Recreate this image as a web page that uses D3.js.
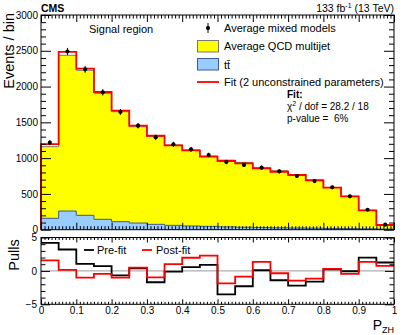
<!DOCTYPE html>
<html>
<head>
<meta charset="utf-8">
<script src="https://cdn.jsdelivr.net/npm/d3@7"></script>
<style>
	body { margin: 0; background: #fff; }
	svg { display: block; font-family: "Liberation Sans", Arial, sans-serif; }
	.tick text { font-size: 10px; fill: #000; }
	.tick line { stroke: #000; }
</style>
</head>
<body>
<svg id="chart" width="407" height="335"></svg>
<script>
// P_ZH distribution in the signal region, with pulls below.
//
var binEdges = d3.range(0, 21).map(function(i) { return i * 0.05; });

// Average mixed models (data points).
var mixedModels = [1216, 2490, 2241, 1920, 1645, 1453, 1291, 1193, 1123, 1044,
	946, 905, 866, 816, 750, 680, 592, 467, 279, 70];
// Total stack (QCD multijet + ttbar).
var stackTotal = [1160, 2437, 2227, 1906, 1649, 1439, 1305, 1183, 1114, 1030,
	972, 940, 870, 824, 772, 698, 590, 467, 271, 66];
var ttbar = [159, 261, 201, 145, 112, 93, 75, 61, 52, 47,
	40, 35, 31, 27, 24, 21, 18, 15, 12, 9];
var fit = [1197, 2485, 2250, 1924, 1663, 1453, 1313, 1179, 1109, 1020,
	960, 928, 858, 810, 764, 690, 587, 467, 271, 66];

var preFitPulls = [4.2, 3.2, 1.06, 0.7, -0.66, 0.4, -1.7, -0.1, 0.56, 0.9,
	-3.5, -2.3, 0.1, -1.4, -2.2, -1.6, 0.25, -0.05, 2.0, 1.26];
var postFitPulls = [1.57, 0.15, -1.0, -0.45, -1.0, 0.5, -0.96, 1.0, 1.97, 2.3,
	-1.87, -0.86, 1.36, -0.35, -1.46, -1.16, 0.3, -0.45, 1.36, 0.76];

var yTicks = [0, 500, 1000, 1500, 2000, 2500, 3000];
var pullTicks = [-5, 0, 5];
var xTicks = [0, 0.1, 0.2, 0.3, 0.4, 0.5, 0.6, 0.7, 0.8, 0.9, 1];

var svg = d3.select('#chart');

var x = d3.scaleLinear().domain([0, 1]).range([41, 394]);
var y = d3.scaleLinear().domain([0, 3000]).range([229.7, 15]);
var yPull = d3.scaleLinear().domain([-5, 5]).range([304.3, 237.5]);

// Turn per-bin values into the corner points of a step histogram.
function steps(values) {
	var pts = [];
	values.forEach(function(v, i) {
		pts.push([binEdges[i], v]);
		pts.push([binEdges[i + 1], v]);
	});
	return pts;
}

function stepArea(scaleY) {
	return d3.area()
		.x(function(d) { return x(d[0]); })
		.y0(scaleY(0))
		.y1(function(d) { return scaleY(d[1]); });
}

function stepLine(scaleY) {
	return d3.line()
		.x(function(d) { return x(d[0]); })
		.y(function(d) { return scaleY(d[1]); });
}

// Closed outline (drops to zero at both ends), like ROOT draws a filled histogram.
function outline(values) {
	var pts = steps(values);
	return [[0, 0]].concat(pts).concat([[1, 0]]);
}

// Upper panel.
var upper = svg.append('g');

upper.append('path')
	.attr('d', stepArea(y)(steps(stackTotal)))
	.attr('fill', '#ffff00');
upper.append('path')
	.attr('d', stepLine(y)(outline(stackTotal)))
	.attr('fill', 'none')
	.attr('stroke', '#777')
	.attr('stroke-width', 1);

upper.append('path')
	.attr('d', stepArea(y)(steps(ttbar)))
	.attr('fill', '#99ccff');
upper.append('path')
	.attr('d', stepLine(y)(outline(ttbar)))
	.attr('fill', 'none')
	.attr('stroke', '#3b5a9a')
	.attr('stroke-width', 1);

upper.append('path')
	.attr('d', stepLine(y)(outline(fit)))
	.attr('fill', 'none')
	.attr('stroke', '#ff0000')
	.attr('stroke-width', 1.8);

var centers = mixedModels.map(function(v, i) {
	return { x: (binEdges[i] + binEdges[i + 1]) / 2, v: v };
});
upper.selectAll('.err')
	.data(centers)
	.enter().append('line')
	.attr('x1', function(d) { return x(d.x); })
	.attr('x2', function(d) { return x(d.x); })
	.attr('y1', function(d) { return y(d.v + Math.sqrt(d.v)); })
	.attr('y2', function(d) { return y(d.v - Math.sqrt(d.v)); })
	.attr('stroke', '#000');
upper.selectAll('.dot')
	.data(centers)
	.enter().append('circle')
	.attr('cx', function(d) { return x(d.x); })
	.attr('cy', function(d) { return y(d.v); })
	.attr('r', 2.1)
	.attr('fill', '#000');

// Axes with ticks drawn inwards.
function addAxis(g, axis, transform) {
	var a = g.append('g').attr('transform', transform).call(axis);
	a.select('.domain').remove();
	return a;
}

var minorX = d3.range(0, 101).map(function(i) { return i / 100; })
	.filter(function(v, i) { return i % 10 !== 0; });
var minorY = d3.range(0, 3001, 100).filter(function(v) { return v % 500 !== 0; });

addAxis(upper, d3.axisLeft(y).tickValues(yTicks).tickSize(-10).tickPadding(3)
	.tickFormat(d3.format('d')), 'translate(41,0)');
addAxis(upper, d3.axisLeft(y).tickValues(minorY).tickSize(-5).tickFormat(''), 'translate(41,0)');
addAxis(upper, d3.axisRight(y).tickValues(yTicks).tickSize(-10).tickFormat(''), 'translate(394,0)');
addAxis(upper, d3.axisRight(y).tickValues(minorY).tickSize(-5).tickFormat(''), 'translate(394,0)');
addAxis(upper, d3.axisBottom(x).tickValues(xTicks).tickSize(-7).tickFormat(''), 'translate(0,229.7)');
addAxis(upper, d3.axisBottom(x).tickValues(minorX).tickSize(-3.5).tickFormat(''), 'translate(0,229.7)');
addAxis(upper, d3.axisTop(x).tickValues(xTicks).tickSize(-7).tickFormat(''), 'translate(0,15)');
addAxis(upper, d3.axisTop(x).tickValues(minorX).tickSize(-3.5).tickFormat(''), 'translate(0,15)');

upper.append('rect')
	.attr('x', 41).attr('y', 15)
	.attr('width', 353).attr('height', 229.7 - 15)
	.attr('fill', 'none').attr('stroke', '#000');

upper.append('text')
	.attr('transform', 'translate(13.5,13) rotate(-90)')
	.attr('text-anchor', 'end')
	.attr('font-size', 14.5)
	.text('Events / bin');

// Header.
svg.append('text')
	.attr('x', 41).attr('y', 11.5)
	.attr('font-size', 10.5).attr('font-weight', 'bold')
	.text('CMS');
var lumi = svg.append('text')
	.attr('x', 394).attr('y', 12)
	.attr('text-anchor', 'end')
	.attr('font-size', 10.5);
lumi.append('tspan').text('133 fb');
lumi.append('tspan').attr('font-size', 7).attr('dy', -4).text('-1');
lumi.append('tspan').attr('dy', 4).text(' (13 TeV)');

svg.append('text')
	.attr('x', 89).attr('y', 33)
	.attr('font-size', 11)
	.text('Signal region');

// Legend.
var legend = svg.append('g').attr('font-size', 11);
legend.append('line')
	.attr('x1', 208).attr('x2', 208).attr('y1', 23).attr('y2', 33)
	.attr('stroke', '#000');
legend.append('circle').attr('cx', 208).attr('cy', 28).attr('r', 2.1).attr('fill', '#000');
legend.append('text').attr('x', 224).attr('y', 32).text('Average mixed models');

legend.append('rect')
	.attr('x', 197.5).attr('y', 40.5).attr('width', 21).attr('height', 11.5)
	.attr('fill', '#ffff00').attr('stroke', '#777');
legend.append('text').attr('x', 224).attr('y', 50).text('Average QCD multijet');

legend.append('rect')
	.attr('x', 197.5).attr('y', 58.5).attr('width', 21).attr('height', 11.5)
	.attr('fill', '#99ccff').attr('stroke', '#3b5a9a');
legend.append('text').attr('x', 224).attr('y', 69).text('tt\u0304');

legend.append('line')
	.attr('x1', 197).attr('x2', 219).attr('y1', 82).attr('y2', 82)
	.attr('stroke', '#ff0000').attr('stroke-width', 1.8);
legend.append('text').attr('x', 224).attr('y', 86).text('Fit (2 unconstrained parameters)');

// Fit summary.
var fitText = svg.append('g').attr('font-size', 10);
fitText.append('text').attr('x', 287).attr('y', 98).attr('font-weight', 'bold').text('Fit:');
var chi = fitText.append('text').attr('x', 287).attr('y', 110);
chi.append('tspan').text('\u03c7');
chi.append('tspan').attr('font-size', 7).attr('dy', -4).text('2');
chi.append('tspan').attr('dy', 4).text(' / dof = 28.2 / 18');
fitText.append('text').attr('x', 287).attr('y', 122).attr('xml:space', 'preserve').text('p-value =  6%');

// Lower panel: pulls.
var lower = svg.append('g');

lower.append('line')
	.attr('x1', x(0)).attr('x2', x(1))
	.attr('y1', yPull(0)).attr('y2', yPull(0))
	.attr('stroke', '#999');

lower.append('path')
	.attr('d', stepLine(yPull)(steps(preFitPulls)))
	.attr('fill', 'none').attr('stroke', '#000').attr('stroke-width', 1.8);
lower.append('path')
	.attr('d', stepLine(yPull)(steps(postFitPulls)))
	.attr('fill', 'none').attr('stroke', '#ff0000').attr('stroke-width', 1.8);

var minorPull = d3.range(-5, 6).filter(function(v) { return v % 5 !== 0; });
addAxis(lower, d3.axisLeft(yPull).tickValues(pullTicks).tickSize(-9).tickPadding(4)
	.tickFormat(function(d) { return d < 0 ? '\u2212' + (-d) : d; }), 'translate(41,0)');
addAxis(lower, d3.axisLeft(yPull).tickValues(minorPull).tickSize(-4.5).tickFormat(''), 'translate(41,0)');
addAxis(lower, d3.axisRight(yPull).tickValues(pullTicks).tickSize(-9).tickFormat(''), 'translate(394,0)');
addAxis(lower, d3.axisRight(yPull).tickValues(minorPull).tickSize(-4.5).tickFormat(''), 'translate(394,0)');
addAxis(lower, d3.axisBottom(x).tickValues(xTicks).tickSize(-5).tickPadding(3)
	.tickFormat(d3.format('~g')), 'translate(0,304.3)');
addAxis(lower, d3.axisBottom(x).tickValues(minorX).tickSize(-2.5).tickFormat(''), 'translate(0,304.3)');
addAxis(lower, d3.axisTop(x).tickValues(xTicks).tickSize(-5).tickFormat(''), 'translate(0,237.5)');
addAxis(lower, d3.axisTop(x).tickValues(minorX).tickSize(-2.5).tickFormat(''), 'translate(0,237.5)');

lower.append('rect')
	.attr('x', 41).attr('y', 237.5)
	.attr('width', 353).attr('height', 304.3 - 237.5)
	.attr('fill', 'none').attr('stroke', '#000');

lower.append('text')
	.attr('transform', 'translate(18.5,255) rotate(-90)')
	.attr('text-anchor', 'middle')
	.attr('font-size', 14.5)
	.text('Pulls');

var xLabel = lower.append('text')
	.attr('x', 394).attr('y', 330)
	.attr('text-anchor', 'end')
	.attr('font-size', 14);
xLabel.append('tspan').text('P');
xLabel.append('tspan').attr('font-size', 9).attr('dy', 3).text('ZH');

// Pulls legend.
var pullLegend = lower.append('g').attr('font-size', 11);
pullLegend.append('line')
	.attr('x1', 84).attr('x2', 94).attr('y1', 250).attr('y2', 250)
	.attr('stroke', '#000').attr('stroke-width', 1.8);
pullLegend.append('text').attr('x', 97).attr('y', 254).text('Pre-fit');
pullLegend.append('line')
	.attr('x1', 142).attr('x2', 152).attr('y1', 250).attr('y2', 250)
	.attr('stroke', '#ff0000').attr('stroke-width', 1.8);
pullLegend.append('text').attr('x', 156).attr('y', 254).text('Post-fit');
</script>
</body>
</html>
